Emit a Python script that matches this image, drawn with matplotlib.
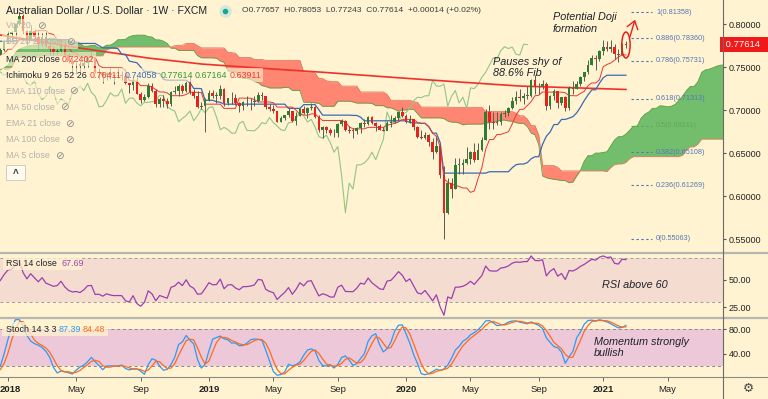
import numpy as np
import pandas as pd
import matplotlib.pyplot as plt
import matplotlib.transforms as mtrans
from matplotlib.patches import Ellipse, Rectangle
from matplotlib.lines import Line2D

plt.rcParams['font.family'] = ['Liberation Sans', 'DejaVu Sans']

# weekly AUD/USD (FXCM), Jul 2016 - Dec 2017, only needed to seed the indicators
pre_high = [0.7600, 0.7675, 0.7600, 0.7620, 0.7660, 0.7710, 0.7735, 0.7660, 0.7600, 0.7730,
            0.7560, 0.7680, 0.7730, 0.7710, 0.7635, 0.7730, 0.7680, 0.7700, 0.7780, 0.7580,
            0.7450, 0.7525, 0.7520, 0.7480, 0.7350, 0.7250,
            0.7360, 0.7510, 0.7610, 0.7585, 0.7700, 0.7700, 0.7730, 0.7740, 0.7720, 0.7620,
            0.7720, 0.7750, 0.7700, 0.7650, 0.7610, 0.7610, 0.7590, 0.7520, 0.7440, 0.7480,
            0.7520, 0.7480, 0.7560, 0.7640, 0.7630, 0.7710, 0.7710, 0.7840, 0.7990, 0.8065,
            0.8000, 0.7940, 0.7960, 0.7960, 0.8000, 0.8100, 0.8080, 0.8100, 0.7970, 0.7850,
            0.7880, 0.7900, 0.7790, 0.7730, 0.7730, 0.7650, 0.7640, 0.7630, 0.7620, 0.7660,
            0.7720, 0.7810]
pre_low = [0.7438, 0.7510, 0.7445, 0.7445, 0.7505, 0.7605, 0.7590, 0.7550, 0.7485, 0.7500,
           0.7445, 0.7485, 0.7605, 0.7560, 0.7520, 0.7590, 0.7580, 0.7590, 0.7550, 0.7375,
           0.7310, 0.7380, 0.7400, 0.7280, 0.7160, 0.7160,
           0.7160, 0.7300, 0.7490, 0.7500, 0.7530, 0.7590, 0.7620, 0.7650, 0.7560, 0.7490,
           0.7560, 0.7610, 0.7580, 0.7520, 0.7490, 0.7480, 0.7460, 0.7370, 0.7330, 0.7360,
           0.7420, 0.7370, 0.7440, 0.7510, 0.7540, 0.7560, 0.7570, 0.7590, 0.7770, 0.7830,
           0.7910, 0.7840, 0.7810, 0.7860, 0.7880, 0.7960, 0.7960, 0.7920, 0.7820, 0.7730,
           0.7780, 0.7780, 0.7650, 0.7625, 0.7630, 0.7530, 0.7550, 0.7550, 0.7500, 0.7520,
           0.7640, 0.7690]
pre_close = [0.7580, 0.7580, 0.7470, 0.7600, 0.7630, 0.7660, 0.7650, 0.7555, 0.7560, 0.7510,
             0.7500, 0.7660, 0.7650, 0.7570, 0.7600, 0.7620, 0.7600, 0.7690, 0.7550, 0.7390,
             0.7410, 0.7460, 0.7450, 0.7330, 0.7200, 0.7210,
             0.7320, 0.7500, 0.7550, 0.7540, 0.7670, 0.7640, 0.7690, 0.7700, 0.7600, 0.7580,
             0.7710, 0.7630, 0.7640, 0.7540, 0.7580, 0.7520, 0.7460, 0.7380, 0.7380, 0.7460,
             0.7440, 0.7460, 0.7540, 0.7610, 0.7570, 0.7690, 0.7600, 0.7790, 0.7900, 0.7990,
             0.7930, 0.7860, 0.7940, 0.7930, 0.7990, 0.8060, 0.8000, 0.7960, 0.7840, 0.7800,
             0.7870, 0.7780, 0.7650, 0.7650, 0.7640, 0.7580, 0.7620, 0.7600, 0.7520, 0.7650,
             0.7700, 0.7800]

# weekly candles shown, week of 1 Jan 2018 .. week of 15 Feb 2021
high = [0.7917, 0.7918, 0.8013, 0.8136, 0.8120, 0.7925, 0.7988, 0.7937, 0.7916, 0.7897,
        0.7917, 0.7776, 0.7745, 0.7710, 0.7812, 0.7813, 0.7667, 0.7608, 0.7554, 0.7570,
        0.7609, 0.7610, 0.7676, 0.7619, 0.7484, 0.7445, 0.7443, 0.7484, 0.7423, 0.7484,
        0.7453, 0.7437, 0.7317, 0.7383, 0.7381, 0.7206, 0.7193, 0.7315, 0.7316, 0.7250,
        0.7150, 0.7174, 0.7141, 0.7220, 0.7276, 0.7299, 0.7305, 0.7344, 0.7394, 0.7250,
        0.7226, 0.7098, 0.7139, 0.7233, 0.7235, 0.7208, 0.7296, 0.7260, 0.7145, 0.7207,
        0.7182, 0.7097, 0.7102, 0.7168, 0.7140, 0.7169, 0.7207, 0.7206, 0.7167, 0.7069,
        0.7056, 0.6992, 0.6933, 0.6942, 0.7020, 0.6991, 0.6975, 0.7022, 0.7048, 0.7033,
        0.7082, 0.7043, 0.6938, 0.6821, 0.6818, 0.6797, 0.6778, 0.6849, 0.6895, 0.6890,
        0.6812, 0.6788, 0.6808, 0.6866, 0.6895, 0.6929, 0.6930, 0.6868, 0.6837, 0.6808,
        0.6870, 0.6939, 0.6930, 0.6975, 0.7032, 0.6957, 0.6938, 0.6900, 0.6820, 0.6774,
        0.6749, 0.6720, 0.6681, 0.6686, 0.6585, 0.6355, 0.6213, 0.6213, 0.6445, 0.6445,
        0.6435, 0.6570, 0.6527, 0.6617, 0.6616, 0.6684, 0.7011, 0.7064, 0.6977, 0.6976,
        0.6976, 0.7000, 0.7033, 0.7156, 0.7227, 0.7243, 0.7194, 0.7276, 0.7365, 0.7413,
        0.7312, 0.7346, 0.7322, 0.7177, 0.7243, 0.7205, 0.7158, 0.7159, 0.7280, 0.7340,
        0.7340, 0.7398, 0.7446, 0.7578, 0.7640, 0.7637, 0.7702, 0.7820, 0.7806, 0.7819,
        0.7764, 0.7711, 0.7778, 0.78053]
low = [0.7780, 0.7808, 0.7865, 0.7990, 0.7900, 0.7759, 0.7812, 0.7800, 0.7712, 0.7740,
       0.7738, 0.7643, 0.7640, 0.7649, 0.7681, 0.7631, 0.7546, 0.7413, 0.7415, 0.7439,
       0.7480, 0.7506, 0.7576, 0.7435, 0.7360, 0.7310, 0.7347, 0.7362, 0.7309, 0.7377,
       0.7355, 0.7307, 0.7202, 0.7236, 0.7184, 0.7085, 0.7109, 0.7141, 0.7205, 0.7040,
       0.7042, 0.7040, 0.7020, 0.7054, 0.7187, 0.7164, 0.7198, 0.7215, 0.7182, 0.7138,
       0.7026, 0.7016, 0.6745, 0.7110, 0.7139, 0.7080, 0.7130, 0.7054, 0.7055, 0.7071,
       0.7060, 0.6983, 0.7004, 0.7052, 0.7002, 0.7053, 0.7089, 0.7117, 0.7012, 0.6988,
       0.6966, 0.6865, 0.6864, 0.6889, 0.6926, 0.6864, 0.6832, 0.6935, 0.6950, 0.6911,
       0.7000, 0.6909, 0.6749, 0.6677, 0.6739, 0.6706, 0.6690, 0.6688, 0.6812, 0.6753,
       0.6740, 0.6671, 0.6719, 0.6733, 0.6810, 0.6831, 0.6834, 0.6755, 0.6771, 0.6754,
       0.6764, 0.6808, 0.6846, 0.6886, 0.6921, 0.6850, 0.6849, 0.6775, 0.6682, 0.6662,
       0.6662, 0.6585, 0.6434, 0.6506, 0.6214, 0.5506, 0.5793, 0.5980, 0.6080, 0.6254,
       0.6253, 0.6373, 0.6372, 0.6402, 0.6435, 0.6522, 0.6656, 0.6777, 0.6776, 0.6832,
       0.6833, 0.6921, 0.6931, 0.7010, 0.7073, 0.7108, 0.7076, 0.7132, 0.7155, 0.7192,
       0.7193, 0.7240, 0.7006, 0.7016, 0.7116, 0.7022, 0.7056, 0.6991, 0.7001, 0.7189,
       0.7241, 0.7276, 0.7339, 0.7414, 0.7523, 0.7462, 0.7573, 0.7643, 0.7692, 0.7675,
       0.7592, 0.7563, 0.7641, 0.77243]
close = [0.7890, 0.7904, 0.7996, 0.8096, 0.7924, 0.7814, 0.7923, 0.7846, 0.7767, 0.7851,
         0.7740, 0.7705, 0.7670, 0.7683, 0.7754, 0.7643, 0.7566, 0.7532, 0.7538, 0.7516,
         0.7551, 0.7605, 0.7610, 0.7442, 0.7445, 0.7405, 0.7431, 0.7409, 0.7398, 0.7399,
         0.7397, 0.7310, 0.7287, 0.7340, 0.7190, 0.7122, 0.7158, 0.7280, 0.7222, 0.7068,
         0.7132, 0.7102, 0.7071, 0.7209, 0.7228, 0.7282, 0.7226, 0.7312, 0.7205, 0.7164,
         0.7040, 0.7045, 0.7114, 0.7201, 0.7165, 0.7168, 0.7246, 0.7080, 0.7137, 0.7141,
         0.7083, 0.7050, 0.7090, 0.7091, 0.7097, 0.7110, 0.7174, 0.7167, 0.7041, 0.7009,
         0.6990, 0.6866, 0.6904, 0.6938, 0.6990, 0.6878, 0.6935, 0.7018, 0.6970, 0.7030,
         0.7039, 0.6920, 0.6773, 0.6800, 0.6775, 0.6733, 0.6733, 0.6845, 0.6870, 0.6765,
         0.6762, 0.6760, 0.6798, 0.6855, 0.6842, 0.6915, 0.6855, 0.6816, 0.6773, 0.6762,
         0.6854, 0.6862, 0.6910, 0.6973, 0.6935, 0.6862, 0.6893, 0.6804, 0.6694, 0.6673,
         0.6710, 0.6625, 0.6512, 0.6578, 0.6242, 0.5808, 0.6153, 0.6084, 0.6364, 0.6366,
         0.6387, 0.6434, 0.6512, 0.6425, 0.6540, 0.6658, 0.6978, 0.6866, 0.6853, 0.6860,
         0.6955, 0.6972, 0.7021, 0.7110, 0.7150, 0.7145, 0.7166, 0.7168, 0.7345, 0.7280,
         0.7277, 0.7303, 0.7048, 0.7160, 0.7228, 0.7084, 0.7150, 0.7023, 0.7259, 0.7250,
         0.7301, 0.7382, 0.7441, 0.7525, 0.7607, 0.7595, 0.7692, 0.7737, 0.7715, 0.7733,
         0.7649, 0.7640, 0.7766, 0.77614]

# 200-week MA (week number, value)
ma200_week = [-2, 19, 37, 51, 66, 82, 104, 119, 135, 163]
ma200_val = [0.7872, 0.7721, 0.7605, 0.7536, 0.7489, 0.7443, 0.7373, 0.7327, 0.7280, 0.72402]

fib_ratio = [0, 0.236, 0.382, 0.5, 0.618, 0.786, 0.886, 1]
fib_price = [0.55063, 0.61269, 0.65108, 0.68211, 0.71313, 0.75731, 0.78360, 0.81358]

price_ticks = [0.55, 0.60, 0.65, 0.70, 0.75, 0.80]
month_names = {1: None, 5: 'May', 9: 'Sep'}

BG = '#fff3d1'
UP, DOWN, WICK = '#2e7d32', '#e8211c', '#5a5a55'
W, H = 768, 399

# ---- indicators (Ichimoku 9/26/52/26, RSI 14, Stoch 14 3 3)
hi = pd.Series(pre_high + high)
lo = pd.Series(pre_low + low)
cl = pd.Series(pre_close + close)
op = cl.shift(1).fillna(cl.iloc[0])
x = np.arange(len(cl)) - len(pre_close)

tenkan = (hi.rolling(9).max() + lo.rolling(9).min()) / 2
kijun = (hi.rolling(26).max() + lo.rolling(26).min()) / 2
span_a = (tenkan + kijun) / 2
span_b = (hi.rolling(52).max() + lo.rolling(52).min()) / 2

d = cl.diff()
gain = d.clip(lower=0).ewm(alpha=1 / 14, adjust=False).mean()
loss = (-d.clip(upper=0)).ewm(alpha=1 / 14, adjust=False).mean()
rsi = 100 - 100 / (1 + gain / loss)

ll, hh = lo.rolling(14).min(), hi.rolling(14).max()
k = (100 * (cl - ll) / (hh - ll)).rolling(3).mean()
dline = k.rolling(3).mean()

dates = pd.date_range('2018-01-01', periods=len(close), freq='W-MON')

# ---- figure, panes placed in pixels
fig = plt.figure(figsize=(W / 100, H / 100), dpi=100)
fig.patch.set_facecolor(BG)


def pane(y0, y1):
    a = fig.add_axes([0, 1 - y1 / H, 723 / W, (y1 - y0) / H])
    a.set_facecolor(BG)
    for s in a.spines.values():
        s.set_visible(False)
    a.set_xlim(-2.1, 188.6)
    a.yaxis.tick_right()
    a.tick_params(axis='y', length=2.5, pad=1.5, labelsize=6.5, colors='#555', labelcolor='#222')
    a.tick_params(axis='x', bottom=False, labelbottom=False)
    return a


ax = pane(0, 252)
ax_r = pane(253, 317)
ax_s = pane(318, 377)

ax.set_ylim(0.5353, 0.8279)
ax.set_yticks(price_ticks)
ax.set_yticklabels([f'{p:.5f}' for p in price_ticks])

# cloud
xa = x + 26
ax.fill_between(xa, span_a, span_b, where=span_a >= span_b, interpolate=True,
                color='#4caf50', alpha=0.78, lw=0, zorder=1)
ax.fill_between(xa, span_a, span_b, where=span_a < span_b, interpolate=True,
                color='#ff5245', alpha=0.68, lw=0, zorder=1)
ax.plot(xa, span_a, color='#5e9e45', lw=0.6, zorder=1.5)
ax.plot(xa, span_b, color='#e0785a', lw=0.6, zorder=1.5)

ax.plot(x - 26, cl, color='#93c685', lw=0.8, zorder=2)
ax.plot(ma200_week, ma200_val, color='#f0302a', lw=1.2, zorder=2)
ax.plot(x, kijun, color='#3b69b5', lw=0.9, zorder=2.5)
ax.plot(x, tenkan, color='#e53935', lw=0.7, zorder=2.5)

# candles
is_up = (cl >= op).values
ax.vlines(x, lo, hi, color=WICK, lw=0.7, zorder=3)
ax.bar(x, (cl - op).abs().clip(lower=0.0006), width=0.7, bottom=np.minimum(op, cl),
       color=np.where(is_up, UP, DOWN), lw=0, zorder=4)

# fib levels
for r, p in zip(fib_ratio, fib_price):
    c = '#62a654' if r == 0.5 else '#5677b6'
    ax.hlines(p, 164.3, 169.9, colors=c, lw=0.8, linestyles=(0, (2.2, 2.2)), zorder=3)
    ax.text(170.9, p, f'{r:g}({p:.5f})', color=c, fontsize=5.2, va='center', ha='left', zorder=5)

# current price tag
tr = mtrans.blended_transform_factory(ax.transAxes, ax.transData)
ax.text(1.0, close[-1], f' {close[-1]:.5f}   ', transform=tr, color='white', fontsize=6.8,
        va='center', ha='left', clip_on=False, zorder=10,
        bbox=dict(boxstyle='square,pad=0.3', fc='#f01a1a', ec='none'))

# doji mark and arrow
ax.add_patch(Ellipse((163, 0.7756), 2.2, 0.0302, fill=False, ec='#e8211c', lw=1.1, zorder=6))
ax.annotate('', xy=(165.6, 0.8081), xytext=(163.8, 0.7814),
            arrowprops=dict(arrowstyle='->,head_length=0.55,head_width=0.4', color='#e8211c', lw=1.0),
            zorder=6, annotation_clip=False)

# RSI pane
ax_r.set_ylim(16.1, 74.7)
ax_r.axhspan(30, 70, color='#f5dcd0', lw=0, zorder=0)
for v in (30, 70):
    ax_r.axhline(v, color='#a09a9a', lw=0.7, ls=(0, (3, 3)), zorder=1)
ax_r.plot(x, rsi, color='#9b3fb0', lw=0.9, zorder=2)
ax_r.set_yticks([25, 50])
ax_r.set_yticklabels(['25.00', '50.00'])

# Stoch pane
ax_s.set_ylim(2.75, 98.3)
ax_s.axhspan(20, 80, color='#ecc8d8', lw=0, zorder=0)
for v in (20, 80):
    ax_s.axhline(v, color='#8a8585', lw=0.7, ls=(0, (3, 3)), zorder=1)
ax_s.plot(x, k, color='#2d9bf0', lw=0.9, zorder=2)
ax_s.plot(x, dline, color='#ff6a1f', lw=0.9, zorder=2)
ax_s.set_yticks([40, 80])
ax_s.set_yticklabels(['40.00', '80.00'])

# time axis
tick_pos, tick_lab = [], []
for i, dt in enumerate(dates):
    if dt.month in month_names and (i == 0 or dates[i - 1].month != dt.month):
        tick_pos.append(i)
        tick_lab.append(str(dt.year) if dt.month == 1 else month_names[dt.month])
tick_pos += [174]
tick_lab += ['May']
ax_s.set_xticks(tick_pos)
ax_s.set_xticklabels(tick_lab)
ax_s.tick_params(axis='x', bottom=True, labelbottom=True, length=3, width=0.7, color='#666',
                 direction='out', pad=2.5, labelsize=6.8, labelcolor='#222')
for t in ax_s.get_xticklabels():
    if t.get_text().isdigit():
        t.set_fontweight('bold')
# keep the first year label inside the left edge
first = ax_s.get_xticklabels()[0]
first.set_transform(first.get_transform() + mtrans.ScaledTranslation(0.025, 0, fig.dpi_scale_trans))


# ---- overlays in pixel space
def ptext(px, py, s, **kw):
    kw.setdefault('va', 'center')
    kw.setdefault('ha', 'left')
    return fig.text(px / W, 1 - py / H, s, **kw)


def prect(x0, y0, x1, y1, **kw):
    fig.add_artist(Rectangle((x0 / W, 1 - y1 / H), (x1 - x0) / W, (y1 - y0) / H,
                             transform=fig.transFigure, **kw))


def pline(xs, ys, **kw):
    fig.add_artist(Line2D([v / W for v in xs], [1 - v / H for v in ys],
                          transform=fig.transFigure, **kw))


pline([0, W], [252.5, 252.5], color='#b8b6b0', lw=1.6)
pline([0, W], [317.5, 317.5], color='#b8b6b0', lw=1.6)
pline([0, W], [377, 377], color='#8a8a8a', lw=0.8)
pline([723, 723], [0, H], color='#6a6a6a', lw=0.8)

# translucent legend rows
for x0, y0, x1, y1 in [(2, 19, 50, 33), (2, 35, 78, 49), (2, 52, 96, 66), (2, 68, 263, 82),
                       (2, 84, 82, 98), (2, 100, 72, 114), (2, 117, 77, 131), (2, 133, 77, 147),
                       (2, 149, 67, 163)]:
    prect(x0, y0, x1, y1, fc=BG, ec='none', alpha=0.62)
prect(3, 256, 82, 270, fc=BG, ec='none', alpha=0.75)
prect(2, 322, 108, 336, fc=BG, ec='none', alpha=0.75)

DARK, FADE = '#1f222b', '#b3b1ab'
ptext(6, 10.5, 'Australian Dollar / U.S. Dollar · 1W · FXCM', fontsize=7.6, color=DARK)
fig.add_artist(Line2D([225 / W], [1 - 10.5 / H], marker='o', ms=9, mfc='#d3e8d8', mec='none',
                      transform=fig.transFigure))
fig.add_artist(Line2D([225 / W], [1 - 10.5 / H], marker='o', ms=4, mfc='#1aa58f', mec='none',
                      transform=fig.transFigure))
ptext(242, 10.5, 'O0.77657  H0.78053  L0.77243  C0.77614  +0.00014 (+0.02%)', fontsize=6.1, color='#3a3a3a')

hidden = [('Vol 20', 26, 41), ('BB 20 2 close', 42, 70), ('EMA 110 close', 91, 73),
          ('MA 50 close', 107, 64), ('EMA 21 close', 124, 69), ('MA 100 close', 140, 69),
          ('MA 5 close', 156, 59)]
for name, py, ex in hidden:
    ptext(6, py, name, fontsize=6.4, color=FADE)
    ptext(ex, py, '⊘', fontsize=7.5, color='#8a8a8a', ha='center', family='DejaVu Sans')

ptext(6, 59, 'MA 200 close', fontsize=6.4, color=DARK)
ptext(62, 59, '0.72402', fontsize=6.4, color='#ef3b34')
ptext(6, 75, 'Ichimoku 9 26 52 26', fontsize=6.4, color=DARK)
for px, val, c in [(90, '0.76411', '#ef3b34'), (125, '0.74058', '#3b69b5'), (161, '0.77614', '#2e9a3a'),
                   (195, '0.67164', '#2e9a3a'), (230, '0.63911', '#ef3b34')]:
    ptext(px, 75, val, fontsize=6.4, color=c)
prect(6, 165, 25, 180, fc='#fffaf0', ec='#c9c5bb', lw=0.6)
ptext(15.5, 173.5, '^', fontsize=7, color='#333', ha='center', fontweight='bold')

ptext(6, 263, 'RSI 14 close', fontsize=6.4, color=DARK)
ptext(61, 263, '67.69', fontsize=6.4, color='#9b3fb0')
ptext(6, 329, 'Stoch 14 3 3', fontsize=6.4, color=DARK)
ptext(59, 329, '87.39', fontsize=6.4, color='#2d9bf0')
ptext(83, 329, '84.48', fontsize=6.4, color='#ff6a1f')

note = dict(fontsize=7.8, style='italic', color='#1f222b')
ptext(553, 17, 'Potential Doji', **note)
ptext(553, 29, 'formation', **note)
ptext(493, 62, 'Pauses shy of', **note)
ptext(493, 73.5, '88.6% Fib', **note)
ptext(602, 285, 'RSI above 60', **note)
ptext(594, 342, 'Momentum strongly', **note)
ptext(594, 353, 'bullish', **note)

ptext(748, 388, '⚙', fontsize=9, color='#444', ha='center', family='DejaVu Sans')

fig.savefig('out.png', dpi=100, facecolor=BG)
